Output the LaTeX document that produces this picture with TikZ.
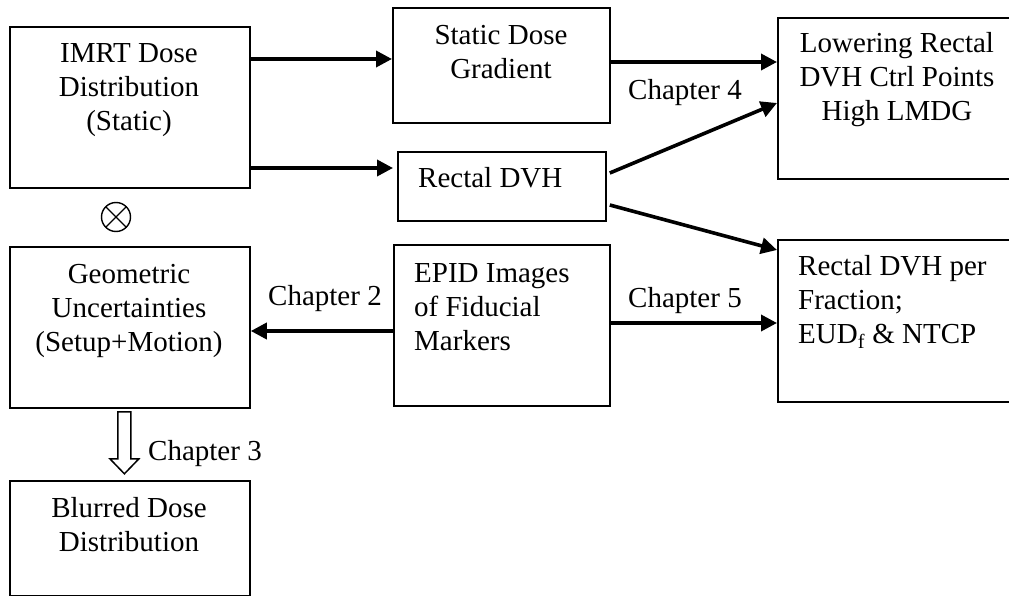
\documentclass[tikz,border=0pt]{standalone}
\usepackage{fontspec}
\setmainfont{Liberation Serif}
\usetikzlibrary{arrows.meta,calc}

\tikzset{
  box/.style={draw, line width=1.8pt, rectangle, inner sep=0pt, anchor=north west},
  txt/.style={inner sep=0pt, font=\fontsize{29}{34}\selectfont},
  arr/.style={line width=3.6pt, -{Triangle[length=16pt,width=16pt]}},
  hollow/.style={draw, line width=1.5pt, fill=white, line join=miter},
}
\newcommand{\ctext}[1]{\parbox[t]{232pt}{\centering #1}}
\newcommand{\ltext}[1]{\parbox[t]{200pt}{\raggedright #1}}

\begin{document}
\begin{tikzpicture}[x=1pt, y=-1pt]
  \useasboundingbox (0,0) rectangle (1009,596);
  \clip (0,0) rectangle (1009,596);

  % frames
  \node[box, minimum width=240pt, minimum height=161pt] (imrt) at (9,26) {};
  \node[box, minimum width=217pt, minimum height=115pt] (sdg)  at (392,7) {};
  \node[box, minimum width=250pt, minimum height=161pt] (low)  at (777,17) {};
  \node[box, minimum width=208pt, minimum height=69pt]  (dvh)  at (397,151) {};
  \node[box, minimum width=240pt, minimum height=161pt] (geo)  at (9,246) {};
  \node[box, minimum width=216pt, minimum height=161pt] (epid) at (393,244) {};
  \node[box, minimum width=250pt, minimum height=162pt] (frac) at (777,239) {};
  \node[box, minimum width=240pt, minimum height=115pt] (blur) at (9,480) {};

  % box texts
  \node[txt, anchor=base] (imrtT) at (129,63) {\ctext{IMRT Dose\\Distribution\\(Static)}};
  \node[txt, anchor=base] (sdgT)  at (501,45) {\ctext{Static Dose\\Gradient}};
  \node[txt, anchor=base] (lowT)  at (897,53) {\ctext{Lowering Rectal\\DVH Ctrl Points\\High LMDG}};
  \node[txt, anchor=base west] (dvhT) at (418,188) {Rectal DVH};
  \node[txt, anchor=base] (geoT)  at (129,283) {\ctext{Geometric\\Uncertainties\\(Setup+Motion)}};
  \node[txt, anchor=base west] (epidT) at (414,282) {\ltext{EPID Images\\of Fiducial\\Markers}};
  \node[txt, anchor=base west] (fracT) at (798,275) {\ltext{Rectal DVH per\\Fraction;\\EUD\textsubscript{f} \& NTCP}};
  \node[txt, anchor=base] (blurT) at (129,517) {\ctext{Blurred Dose\\Distribution}};

  % chapter labels
  \node[txt, anchor=base west] (ch4) at (628,100) {Chapter 4};
  \node[txt, anchor=base west] (ch2) at (268,305) {Chapter 2};
  \node[txt, anchor=base west] (ch5) at (628,307) {Chapter 5};
  \node[txt, anchor=base west] (ch3) at (148,460) {Chapter 3};

  % convolution sign
  \node[circle, draw, line width=1.4pt, minimum size=29pt, inner sep=0pt,
        path picture={\draw[line width=1.4pt]
          (path picture bounding box.north west) -- (path picture bounding box.south east)
          (path picture bounding box.north east) -- (path picture bounding box.south west);}]
        (conv) at (116,217) {};

  % connectors
  \draw[arr] ([yshift=-33pt]imrt.north east) -- ([yshift=-33pt]imrt.north east -| sdg.west);
  \draw[arr] ([yshift=-142pt]imrt.north east) -- ([xshift=-4pt,yshift=-142pt]imrt.north east -| dvh.west);
  \draw[arr] ([yshift=-55pt]sdg.north east) -- ([yshift=-55pt]sdg.north east -| low.west);
  \coordinate (dvhA) at ([xshift=3pt,yshift=-22pt]dvh.north east);
  \coordinate (dvhB) at ([xshift=3pt,yshift=-54pt]dvh.north east);
  \draw[arr] (dvhA) -- ([yshift=-86pt]low.north west);
  \draw[arr] (dvhB) -- ([yshift=-11pt]frac.north west);
  \draw[arr] ([yshift=-87pt]epid.north west) -- ([yshift=-87pt]epid.north west -| geo.east);
  \draw[arr] ([yshift=-79pt]epid.north east) -- ([yshift=-79pt]epid.north east -| frac.west);

  % hollow block arrow towards the blurred dose box
  \draw[hollow] ($(geo.south)+(-12,3)$) -- ++(13,0) -- ++(0,47) -- ++(8,0)
    -- ++(-14.5,15) -- ++(-14.5,-15) -- ++(8,0) -- cycle;
\end{tikzpicture}
\end{document}
